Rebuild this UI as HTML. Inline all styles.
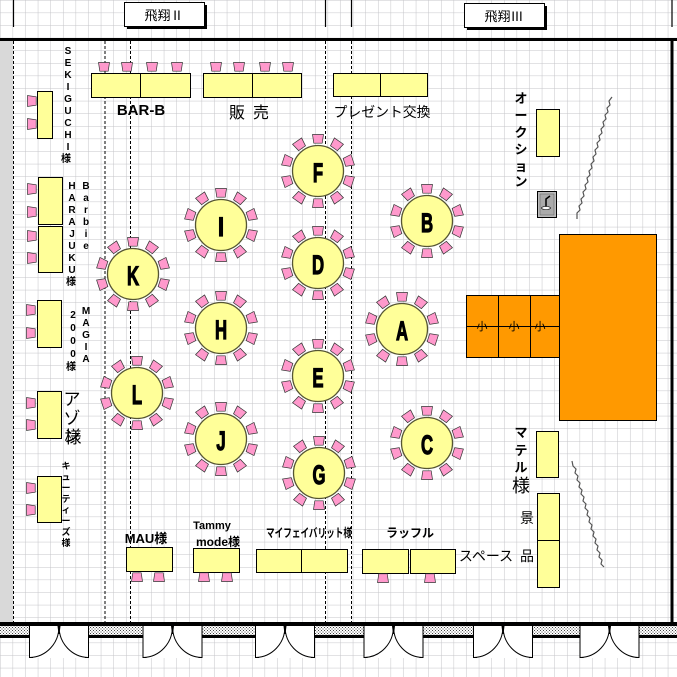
<!DOCTYPE html>
<html><head><meta charset="utf-8"><style>
html,body{margin:0;padding:0;background:#fff}
svg{display:block}
text{font-family:"Liberation Sans","Noto Sans CJK JP",sans-serif;fill:#000}
</style></head><body>
<svg width="677" height="677" viewBox="0 0 677 677" xmlns="http://www.w3.org/2000/svg">
<defs>
<pattern id="grid" x="0.5" y="0.5" width="12.6" height="12.6" patternUnits="userSpaceOnUse">
<path d="M12.6 0V12.6M0 12.6H12.6" stroke="#c4c4c8" stroke-width="1" fill="none"/>
</pattern>
<pattern id="hatch" width="3" height="3" patternUnits="userSpaceOnUse">
<rect width="3" height="3" fill="#fff"/><rect width="1" height="1" fill="#444"/><rect x="1.5" y="1.5" width="1" height="1" fill="#444"/>
</pattern>
<g id="ch"><path d="M-5.5,-4.5 L5.5,-4.5 L4.2,4.2 L-4.2,4.2 Z" fill="#ff99cc" stroke="#333" stroke-width="0.7"/></g>
<g id="rt">
<use href="#ch" transform="rotate(0) translate(0,-32)"/>
<use href="#ch" transform="rotate(35) translate(0,-32)"/>
<use href="#ch" transform="rotate(72) translate(0,-32)"/>
<use href="#ch" transform="rotate(108) translate(0,-32)"/>
<use href="#ch" transform="rotate(145) translate(0,-32)"/>
<use href="#ch" transform="rotate(180) translate(0,-32)"/>
<use href="#ch" transform="rotate(215) translate(0,-32)"/>
<use href="#ch" transform="rotate(252) translate(0,-32)"/>
<use href="#ch" transform="rotate(288) translate(0,-32)"/>
<use href="#ch" transform="rotate(325) translate(0,-32)"/>
<circle r="25.5" fill="#ffff99" stroke="#555533" stroke-width="1.3"/>
</g>
</defs>
<rect width="677" height="677" fill="#fff"/>
<rect width="677" height="677" fill="url(#grid)"/>
<rect x="0" y="40" width="13" height="583" fill="#d9d9d9"/>
<line x1="13.5" y1="0" x2="13.5" y2="27" stroke="#000" stroke-width="1.2"/>
<line x1="325.5" y1="0" x2="325.5" y2="27" stroke="#000" stroke-width="1.2"/>
<line x1="351.5" y1="0" x2="351.5" y2="27" stroke="#000" stroke-width="1.2"/>
<line x1="672" y1="0" x2="672" y2="27" stroke="#000" stroke-width="1.2"/>
<rect x="127" y="5" width="80" height="24" fill="#000"/>
<rect x="124.5" y="2.5" width="80" height="24" fill="#fff" stroke="#000"/>
<text x="164" y="20" font-size="13" text-anchor="middle">飛翔Ⅱ</text>
<rect x="467" y="6" width="80" height="24" fill="#000"/>
<rect x="464.5" y="3.5" width="80" height="24" fill="#fff" stroke="#000"/>
<text x="504" y="21" font-size="13" text-anchor="middle">飛翔Ⅲ</text>
<rect x="0" y="38" width="677" height="3" fill="#000"/>
<rect x="670.5" y="38" width="3" height="587" fill="#000"/>
<g stroke="#000" stroke-width="1" stroke-dasharray="3,2">
<line x1="13.5" y1="41" x2="13.5" y2="623"/>
<line x1="105" y1="41" x2="105" y2="623"/>
<line x1="130.5" y1="41" x2="130.5" y2="623"/>
<line x1="325.5" y1="41" x2="325.5" y2="623"/>
<line x1="351.5" y1="41" x2="351.5" y2="623"/>
</g>
<rect x="0" y="626" width="677" height="10" fill="url(#hatch)"/>
<rect x="0" y="622" width="677" height="4" fill="#000"/>
<rect x="0" y="635" width="677" height="3" fill="#000"/>
<g fill="#fff" stroke="#000" stroke-width="1">
<g id="door">
<rect x="29" y="626" width="59.5" height="32" stroke="none"/>
<path d="M29.5,626 V657.5 H33 M88.5,626 V657.5 H85" fill="none"/>
<path d="M30,657.5 A30,31 0 0 0 59,627" fill="none"/>
<path d="M88,657.5 A30,31 0 0 1 59,627" fill="none"/>
<path d="M58,626 L59,634 L60,626Z" fill="#000"/>
</g>
<use href="#door" x="113.5"/>
<use href="#door" x="226"/>
<use href="#door" x="334.5"/>
<use href="#door" x="444"/>
<use href="#door" x="550.5"/>
</g>
<g fill="#ffff99" stroke="#000" stroke-width="1">
<rect x="91.5" y="73.5" width="99" height="24"/><line x1="140.5" y1="73.5" x2="140.5" y2="97.5"/>
<rect x="203.5" y="73.5" width="98" height="24"/><line x1="252.5" y1="73.5" x2="252.5" y2="97.5"/>
<rect x="333.5" y="73.5" width="94" height="23"/><line x1="380.5" y1="73.5" x2="380.5" y2="96.5"/>
<rect x="37.5" y="91.5" width="15" height="47"/>
<rect x="38.5" y="177.5" width="24" height="47"/>
<rect x="38.5" y="226.5" width="24" height="46"/>
<rect x="37.5" y="300.5" width="24" height="47"/>
<rect x="37.5" y="391.5" width="24" height="47"/>
<rect x="37.5" y="476.5" width="24" height="46"/>
<rect x="126.5" y="547.5" width="46" height="24"/>
<rect x="193.5" y="548.5" width="46" height="24"/>
<rect x="256.5" y="549.5" width="91" height="23"/><line x1="301.5" y1="549.5" x2="301.5" y2="572.5"/>
<rect x="362.5" y="549.5" width="46" height="24"/>
<rect x="410.5" y="549.5" width="45" height="24"/>
<rect x="536.5" y="109.5" width="23" height="47"/>
<rect x="536.5" y="431.5" width="22" height="46"/>
<rect x="537.5" y="493.5" width="22" height="94"/><line x1="537.5" y1="540.5" x2="559.5" y2="540.5"/>
</g>
<g>
<use href="#ch" x="104" y="67"/><use href="#ch" x="127" y="67"/><use href="#ch" x="152" y="67"/><use href="#ch" x="177" y="67"/>
<use href="#ch" x="216" y="67"/><use href="#ch" x="239" y="67"/><use href="#ch" x="265" y="67"/><use href="#ch" x="288" y="67"/>
</g>
<g>
<use href="#ch" transform="translate(32,101) rotate(-90)"/><use href="#ch" transform="translate(32,124) rotate(-90)"/>
<use href="#ch" transform="translate(32,189) rotate(-90)"/><use href="#ch" transform="translate(32,212) rotate(-90)"/>
<use href="#ch" transform="translate(32,236) rotate(-90)"/><use href="#ch" transform="translate(32,258) rotate(-90)"/>
<use href="#ch" transform="translate(31,310) rotate(-90)"/><use href="#ch" transform="translate(31,333) rotate(-90)"/>
<use href="#ch" transform="translate(31,403) rotate(-90)"/><use href="#ch" transform="translate(31,425) rotate(-90)"/>
<use href="#ch" transform="translate(31,488) rotate(-90)"/><use href="#ch" transform="translate(31,510) rotate(-90)"/>
</g>
<g>
<use href="#ch" transform="translate(137,577) rotate(180)"/><use href="#ch" transform="translate(159,577) rotate(180)"/>
<use href="#ch" transform="translate(204,577) rotate(180)"/><use href="#ch" transform="translate(227,577) rotate(180)"/>
<use href="#ch" transform="translate(383,578) rotate(180)"/><use href="#ch" transform="translate(430,578) rotate(180)"/>
</g>
<use href="#rt" x="318" y="171"/>
<use href="#rt" x="221" y="225"/>
<use href="#rt" x="427" y="221"/>
<use href="#rt" x="133" y="274"/>
<use href="#rt" x="318" y="263"/>
<use href="#rt" x="221" y="328"/>
<use href="#rt" x="402" y="329"/>
<use href="#rt" x="137" y="393"/>
<use href="#rt" x="318" y="376"/>
<use href="#rt" x="221" y="439"/>
<use href="#rt" x="427" y="443"/>
<use href="#rt" x="319" y="473"/>
<g font-size="27" font-weight="bold" text-anchor="middle" stroke="#000" stroke-width="1.2">
<text transform="translate(318,182) scale(0.62,1)">F</text>
<text transform="translate(221,236) scale(0.8,1)" font-family="Liberation Serif">I</text>
<text transform="translate(427,232) scale(0.62,1)">B</text>
<text transform="translate(133,285) scale(0.62,1)">K</text>
<text transform="translate(318,274) scale(0.62,1)">D</text>
<text transform="translate(221,339) scale(0.62,1)">H</text>
<text transform="translate(402,340) scale(0.62,1)">A</text>
<text transform="translate(137,404) scale(0.62,1)">L</text>
<text transform="translate(318,387) scale(0.62,1)">E</text>
<text transform="translate(221,450) scale(0.62,1)">J</text>
<text transform="translate(427,454) scale(0.62,1)">C</text>
<text transform="translate(319,484) scale(0.62,1)">G</text>
</g>
<g fill="#ff9900" stroke="#000" stroke-width="1">
<rect x="466.5" y="295.5" width="93" height="62"/>
<line x1="498.5" y1="295.5" x2="498.5" y2="357.5"/>
<line x1="530.5" y1="295.5" x2="530.5" y2="357.5"/>
<line x1="466.5" y1="326.5" x2="559.5" y2="326.5"/>
<rect x="559.5" y="234.5" width="97" height="186"/>
</g>
<g font-size="11" text-anchor="middle"><text x="482" y="330">小</text><text x="514" y="330">小</text><text x="540" y="330">小</text></g>
<rect x="537.5" y="191.5" width="19" height="26" fill="#bbb" stroke="#000"/>
<rect x="540" y="194" width="14" height="21" fill="#aaa" stroke="#666" stroke-width="0.6"/>
<path d="M546,207 V199 L550,196" stroke="#000" stroke-width="1.5" fill="none"/>
<ellipse cx="546" cy="208" rx="4.5" ry="1.5" fill="#fff" stroke="#000" stroke-width="0.6"/>
<path d="M612,97 l-3,4 1,4 -3,3 1,4 -3,3 1,4 -3,3 1,4 -3,3 1,4 -3,3 1,4 -3,3 1,4 -3,3 1,4 -3,3 1,4 -3,3 1,4 -3,3 1,4 -3,3 1,4 -3,3 1,4 -3,3 1,4 -3,3 1,4 -3,3 1,4 -3,3 0,6" stroke="#555" stroke-width="1.2" fill="none"/>
<path d="M572,461 l1,5 3,3 -1,4 3,3 -1,4 3,3 -1,4 3,3 -1,4 3,3 -1,4 3,3 -1,4 3,3 -1,4 3,3 -1,4 3,3 -1,4 3,3 -1,4 3,3 -1,4 3,3 -1,4 3,3 -1,4 3,3 -1,4 3,3" stroke="#555" stroke-width="1.2" fill="none"/>
<text x="141" y="115" font-size="15" font-weight="bold" text-anchor="middle">BAR-B</text>
<text x="253" y="118" font-size="16" text-anchor="middle" letter-spacing="8">販売</text>
<text x="382" y="117" font-size="14" text-anchor="middle" textLength="97" lengthAdjust="spacingAndGlyphs">プレゼント交換</text>
<g font-size="10" font-weight="bold" text-anchor="middle">
<text x="68" y="54">S</text><text x="68" y="66">E</text><text x="68" y="78">K</text><text x="68" y="90">I</text><text x="68" y="102">G</text><text x="68" y="114">U</text><text x="68" y="126">C</text><text x="68" y="138">H</text><text x="68" y="150">I</text><text x="66" y="162">様</text>
<text x="72" y="189">H</text><text x="72" y="201">A</text><text x="72" y="213">R</text><text x="72" y="225">A</text><text x="72" y="237">J</text><text x="72" y="249">U</text><text x="72" y="261">K</text><text x="72" y="273">U</text><text x="71" y="285">様</text>
<text x="86" y="189">B</text><text x="86" y="201">a</text><text x="86" y="213">r</text><text x="86" y="225">b</text><text x="86" y="237">i</text><text x="86" y="249">e</text>
<text x="73" y="318">2</text><text x="73" y="331">0</text><text x="73" y="344">0</text><text x="73" y="357">0</text><text x="71" y="370">様</text>
<text x="86" y="314">M</text><text x="86" y="326">A</text><text x="86" y="338">G</text><text x="86" y="350">I</text><text x="86" y="362">A</text>
</g>
<g font-size="17" text-anchor="middle"><text x="72" y="405">ア</text><text x="72" y="424">ゾ</text><text x="72" y="442">ン</text></g>
<text x="73" y="443" font-size="17" text-anchor="middle">様</text>
<g font-size="9" font-weight="bold" text-anchor="middle">
<text x="66" y="469">キ</text><text x="66" y="480">ュ</text><text x="66" y="491">ー</text><text x="66" y="502">テ</text><text x="66" y="513">ィ</text><text x="66" y="524">ー</text><text x="66" y="535">ズ</text><text x="66" y="546">様</text>
</g>
<text x="146" y="543" font-size="13" font-weight="bold" text-anchor="middle">MAU様</text>
<text x="212" y="529" font-size="11" font-weight="bold" text-anchor="middle">Tammy</text>
<text x="218" y="546" font-size="12" font-weight="bold" text-anchor="middle">mode様</text>
<text x="309" y="537" font-size="12" font-weight="bold" text-anchor="middle" textLength="86" lengthAdjust="spacingAndGlyphs">マイフェイバリット様</text>
<text x="410" y="537" font-size="12" font-weight="bold" text-anchor="middle">ラッフル</text>
<text x="486" y="561" font-size="14" text-anchor="middle">スペース</text>
<text x="527" y="523" font-size="14" text-anchor="middle">景</text>
<text x="527" y="561" font-size="14" text-anchor="middle">品</text>
<g font-size="13" font-weight="bold" text-anchor="middle">
<text x="521" y="103">オ</text><text x="521" y="120">ー</text><text x="521" y="137">ク</text><text x="521" y="154">シ</text><text x="521" y="171">ョ</text><text x="521" y="186">ン</text>
<text x="521" y="437">マ</text><text x="521" y="455">テ</text><text x="521" y="472">ル</text>
</g>
<text x="521" y="492" font-size="18" text-anchor="middle">様</text>
</svg>
</body></html>
